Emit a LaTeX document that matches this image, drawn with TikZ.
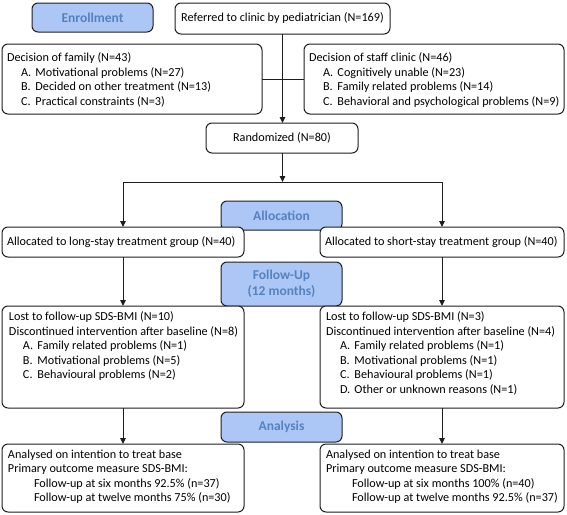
\documentclass[tikz,border=0pt]{standalone}
\usepackage{fontspec}
\setmainfont{Carlito}
\usetikzlibrary{arrows.meta}
\definecolor{hdrfill}{RGB}{172,199,245}
\definecolor{hdrtext}{RGB}{84,130,192}
\definecolor{edgecol}{RGB}{30,30,30}
\newcommand{\itm}[2]{\hspace*{14pt}\makebox[14.5pt][l]{#1}#2}
\newcommand{\fu}[1]{\hspace*{26pt}#1}
\begin{document}
\begin{tikzpicture}[x=1pt,y=-1pt,
  box/.style={draw=edgecol,line width=1pt,rounded corners=6pt,fill=white,inner sep=0pt,outer sep=0pt,anchor=north west,font=\fontsize{12.2}{14.5}\selectfont},
  hdr/.style={box,fill=hdrfill,text=hdrtext,font=\fontsize{13.5}{16}\selectfont\bfseries,align=center},
  txt/.style={inner sep=0pt,outer sep=0pt,anchor=north west,align=left,font=\fontsize{12.2}{14.5}\selectfont},
  conn/.style={draw=edgecol,line width=1pt},
  arr/.style={conn,-{Triangle[width=5.5pt,length=6pt]}}]
\useasboundingbox (0,0) rectangle (567,514);

% Enrollment row
\node[hdr,minimum width=121,minimum height=29] (enroll) at (32,3) {Enrollment};
\node[box,minimum width=215,minimum height=31] (refer) at (175,3) {Referred to clinic by pediatrician (N=169)};

\node[box,minimum width=260,minimum height=70] (fam) at (2,44) {};
\node[txt] (famt) at (7,53) {Decision of family (N=43)\\
  \itm{A.}{Motivational problems (N=27)}\\
  \itm{B.}{Decided on other treatment (N=13)}\\
  \itm{C.}{Practical constraints (N=3)}};

\node[box,minimum width=260,minimum height=70] (staff) at (304,44) {};
\node[txt] (stafft) at (309,53) {Decision of staff clinic (N=46)\\
  \itm{A.}{Cognitively unable (N=23)}\\
  \itm{B.}{Family related problems (N=14)}\\
  \itm{C.}{Behavioral and psychological problems (N=9)}};

\node[box,minimum width=152,minimum height=30] (rand) at (206,123) {Randomized (N=80)};

% Allocation
\node[hdr,minimum width=121,minimum height=29] (alloc) at (221,201) {Allocation};
\node[box,minimum width=242,minimum height=30] (long) at (2,227) {};
\node[txt,anchor=west] (longt) at ([xshift=5pt]long.west) {Allocated to long-stay treatment group (N=40)};
\node[box,minimum width=244,minimum height=30] (short) at (320,227) {};
\node[txt,anchor=west] (shortt) at ([xshift=5pt]short.west) {Allocated to short-stay treatment group (N=40)};

% Follow-up
\node[hdr,minimum width=121,minimum height=44] (follow) at (221,262) {Follow-Up\\(12 months)};
\node[box,minimum width=242,minimum height=102] (lostL) at (2,306) {};
\node[txt] (lostLt) at (9,312) {Lost to follow-up SDS-BMI (N=10)\\
  Discontinued intervention after baseline (N=8)\\
  \itm{A.}{Family related problems (N=1)}\\
  \itm{B.}{Motivational problems (N=5)}\\
  \itm{C.}{Behavioural problems (N=2)}};
\node[box,minimum width=244,minimum height=102] (lostR) at (320,306) {};
\node[txt] (lostRt) at (326,312) {Lost to follow-up SDS-BMI (N=3)\\
  Discontinued intervention after baseline (N=4)\\
  \itm{A.}{Family related problems (N=1)}\\
  \itm{B.}{Motivational problems (N=1)}\\
  \itm{C.}{Behavioural problems (N=1)}\\
  \itm{D.}{Other or unknown reasons (N=1)}};

% Analysis
\node[hdr,minimum width=121,minimum height=30] (analysis) at (221,412) {Analysis};
\node[box,minimum width=242,minimum height=68] (anaL) at (2,444) {};
\node[txt] (anaLt) at (8,450) {Analysed on intention to treat base\\
  Primary outcome measure SDS-BMI:\\
  \fu{Follow-up at six months 92.5\% (n=37)}\\
  \fu{Follow-up at twelve months 75\% (n=30)}};
\node[box,minimum width=244,minimum height=68] (anaR) at (320,444) {};
\node[txt] (anaRt) at (326,450) {Analysed on intention to treat base\\
  Primary outcome measure SDS-BMI:\\
  \fu{Follow-up at six months 100\% (n=40)}\\
  \fu{Follow-up at twelve months 92.5\% (n=37)}};

% connectors
\draw[conn] (fam.east) -- (staff.west);
\draw[arr] (refer.south) -- (refer.south |- rand.north);
\coordinate (split) at (refer.south |- 0,182);
\draw[arr] (rand.south -| split) -- (split);
\draw[conn] (long.north |- split) -- (short.north |- split);
\draw[arr] (long.north |- split) -- (long.north);
\draw[arr] (short.north |- split) -- (short.north);
\draw[arr] (long.south) -- (lostL.north);
\draw[arr] (short.south) -- (lostR.north);
\draw[arr] (lostL.south) -- (anaL.north);
\draw[arr] (lostR.south) -- (anaR.north);
\end{tikzpicture}
\end{document}
